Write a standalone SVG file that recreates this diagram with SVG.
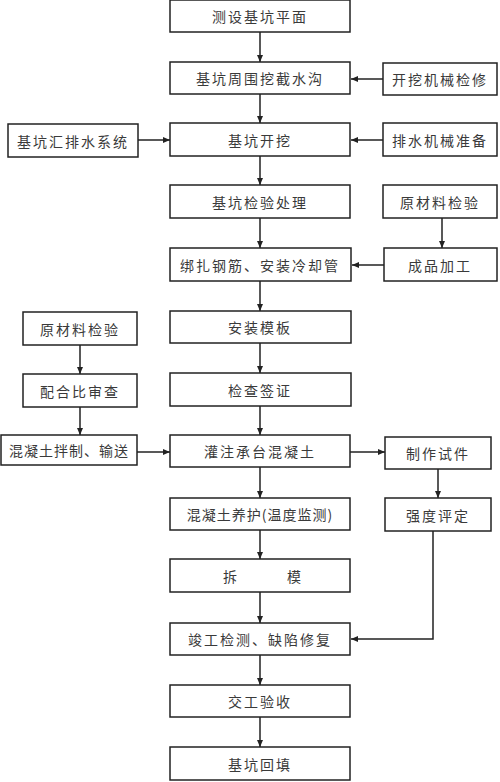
<svg xmlns="http://www.w3.org/2000/svg" width="500" height="782" viewBox="0 0 500 782">
<style>
rect{fill:#fff;stroke:#222;stroke-width:1.5}
text{font-family:"Noto Sans CJK SC","Noto Sans",sans-serif;font-size:14px;fill:#3a3a3a;text-anchor:middle;dominant-baseline:central;letter-spacing:2px}
.c line,.c polyline{stroke:#222;stroke-width:1.5;fill:none;marker-end:url(#a)}
</style>
<defs><marker id="a" viewBox="0 0 10 10" refX="10" refY="5" markerWidth="7" markerHeight="6" orient="auto" markerUnits="userSpaceOnUse" preserveAspectRatio="none"><path d="M0,0 L10,5 L0,10 z" fill="#222"/></marker></defs>
<rect width="500" height="782" style="fill:#fff;stroke:none"/>
<g class="c">
<line x1="260" y1="32" x2="260" y2="62"/>
<line x1="260" y1="94" x2="260" y2="123"/>
<line x1="260" y1="156" x2="260" y2="185"/>
<line x1="260" y1="218" x2="260" y2="248"/>
<line x1="260" y1="281" x2="260" y2="311"/>
<line x1="260" y1="343" x2="260" y2="373"/>
<line x1="260" y1="406" x2="260" y2="435"/>
<line x1="260" y1="467" x2="260" y2="498"/>
<line x1="260" y1="530" x2="260" y2="559"/>
<line x1="260" y1="592" x2="260" y2="623"/>
<line x1="260" y1="655" x2="260" y2="685"/>
<line x1="260" y1="717" x2="260" y2="747"/>
<line x1="383" y1="79" x2="351" y2="79"/>
<line x1="138" y1="140" x2="170" y2="140"/>
<line x1="383" y1="140" x2="351" y2="140"/>
<line x1="442" y1="218" x2="442" y2="248"/>
<line x1="384" y1="265" x2="352" y2="265"/>
<line x1="80" y1="345" x2="80" y2="374"/>
<line x1="80" y1="407" x2="80" y2="435"/>
<line x1="137" y1="452" x2="170" y2="452"/>
<line x1="350" y1="452" x2="385" y2="452"/>
<line x1="438" y1="469" x2="438" y2="498"/>
<polyline points="433,531 433,639 351,639"/>
</g>
<g id="n1"><rect x="170" y="0" width="180" height="32"/><text x="260" y="16">测设基坑平面</text></g>
<g id="n2"><rect x="170" y="62" width="180" height="32"/><text x="260" y="78">基坑周围挖截水沟</text></g>
<g id="r2"><rect x="383" y="63" width="114" height="32"/><text x="440" y="79">开挖机械检修</text></g>
<g id="n3"><rect x="170" y="123" width="180" height="33"/><text x="260" y="139.5">基坑开挖</text></g>
<g id="l3"><rect x="8" y="124" width="130" height="33"/><text x="73" y="140.5">基坑汇排水系统</text></g>
<g id="r3"><rect x="383" y="123" width="114" height="33"/><text x="440" y="139.5">排水机械准备</text></g>
<g id="n4"><rect x="170" y="185" width="180" height="33"/><text x="260" y="201.5">基坑检验处理</text></g>
<g id="r4"><rect x="383" y="185" width="114" height="33"/><text x="440" y="201.5">原材料检验</text></g>
<g id="n5"><rect x="170" y="248" width="181" height="33"/><text x="260" y="264.5">绑扎钢筋、安装冷却管</text></g>
<g id="r5"><rect x="384" y="248" width="113" height="33"/><text x="440" y="264.5">成品加工</text></g>
<g id="n6"><rect x="170" y="311" width="181" height="32"/><text x="260" y="327">安装模板</text></g>
<g id="l6"><rect x="23" y="312" width="114" height="33"/><text x="80" y="328.5">原材料检验</text></g>
<g id="n7"><rect x="170" y="373" width="181" height="33"/><text x="260" y="389.5">检查签证</text></g>
<g id="l7"><rect x="23" y="374" width="114" height="33"/><text x="80" y="390.5">配合比审查</text></g>
<g id="n8"><rect x="170" y="435" width="180" height="32"/><text x="260" y="451">灌注承台混凝土</text></g>
<g id="l8"><rect x="1" y="435" width="136" height="30"/><text x="69" y="450" style="letter-spacing:1px">混凝土拌制、输送</text></g>
<g id="r8"><rect x="385" y="437" width="106" height="32"/><text x="438" y="453">制作试件</text></g>
<g id="n9"><rect x="170" y="498" width="180" height="32"/><text x="260" y="514" style="letter-spacing:1px">混凝土养护(温度监测)</text></g>
<g id="r9"><rect x="385" y="498" width="106" height="33"/><text x="438" y="514.5">强度评定</text></g>
<g id="n10"><rect x="170" y="559" width="180" height="33"/><text x="263" y="575.5" xml:space="preserve">拆　　　模</text></g>
<g id="n11"><rect x="170" y="623" width="180" height="32"/><text x="260" y="639">竣工检测、缺陷修复</text></g>
<g id="n12"><rect x="170" y="685" width="180" height="32"/><text x="260" y="701">交工验收</text></g>
<g id="n13"><rect x="170" y="747" width="180" height="33"/><text x="260" y="763.5">基坑回填</text></g>
</svg>
